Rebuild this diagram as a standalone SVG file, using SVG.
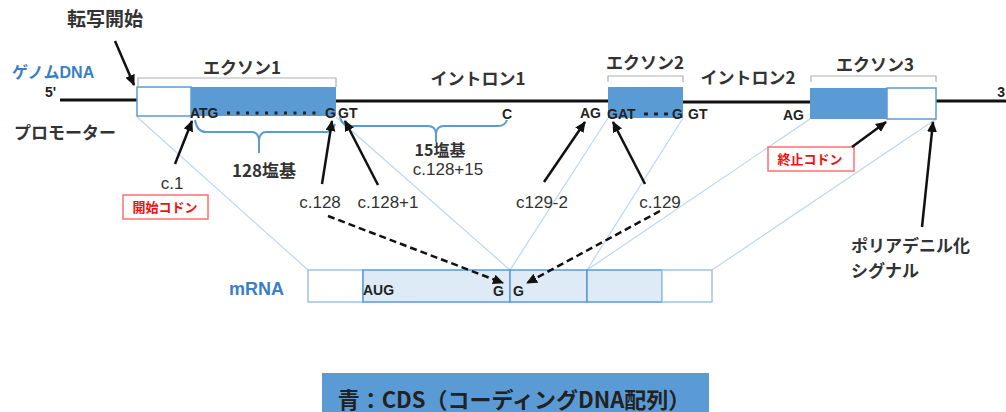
<svg xmlns="http://www.w3.org/2000/svg" width="1006" height="412" viewBox="0 0 1006 412">
<defs>
<marker id="ah" markerUnits="userSpaceOnUse" markerWidth="12" markerHeight="12" refX="10" refY="5" orient="auto">
<path d="M0,0 L11,5 L0,10 z" fill="#111"/>
</marker>
<style>
.jp{font-family:"Noto Sans CJK JP","Liberation Sans",sans-serif;fill:#333;font-weight:bold}
.lab{font-family:"Liberation Sans","Noto Sans CJK JP",sans-serif;fill:#333}
.seq{font-family:"Liberation Sans",sans-serif;font-weight:bold;fill:#222;font-size:14px}
.dna{stroke:#111;stroke-width:3;fill:none}
.cds{fill:#5b9bd5}
.utr{fill:#fff;stroke:#5b9bd5;stroke-width:1.5}
.brk{fill:none;stroke:#b0b0b0;stroke-width:1.2}
.brace{fill:none;stroke:#5b9bd5;stroke-width:2}
.guide{stroke:#bdd7ee;stroke-width:1.2;fill:none}
.arr{stroke:#111;stroke-width:2.5;fill:none;marker-end:url(#ah)}
.darr{stroke:#111;stroke-width:2.5;fill:none;stroke-dasharray:7 4;marker-end:url(#ah)}
.red{fill:#fff;stroke:#ff7070;stroke-width:1.5}
.redt{font-family:"Noto Sans CJK JP",sans-serif;font-weight:bold;fill:#f01010;font-size:13px}
.blue{font-family:"Liberation Sans","Noto Sans CJK JP",sans-serif;font-weight:bold;fill:#3a7fc4}
.mw{fill:#fff;stroke:#9dc3e6;stroke-width:1.5}
.mb{fill:#deebf7;stroke:#5b9bd5;stroke-width:1.5}
</style>
</defs>

<g id="guides">
<line class="guide" x1="137" y1="117" x2="308" y2="270"/>
<line class="guide" x1="336" y1="117" x2="510" y2="270"/>
<line class="guide" x1="608" y1="118" x2="510" y2="270"/>
<line class="guide" x1="683" y1="118" x2="587" y2="270"/>
<line class="guide" x1="810" y1="119" x2="587" y2="270"/>
<line class="guide" x1="936" y1="119" x2="712" y2="270"/>
</g>

<g id="dna-lines">
<line class="dna" x1="60" y1="100" x2="137" y2="100"/>
<line class="dna" x1="336" y1="101" x2="608" y2="101"/>
<line class="dna" x1="683" y1="102" x2="810" y2="102"/>
<line class="dna" x1="930" y1="101" x2="1006" y2="101"/>
</g>

<g id="exon1">
<rect class="utr" x="137" y="87" width="54" height="29"/>
<rect class="cds" x="191" y="87" width="145" height="29"/>
<path class="brk" d="M138,87 V78 H336 V87"/>
<text class="jp" x="242" y="74" font-size="17" text-anchor="middle">エクソン1</text>
<text class="seq" x="190" y="118">ATG</text>
<line x1="227" y1="113" x2="322" y2="113" stroke="#222" stroke-width="3" stroke-dasharray="3 6.5"/>
<text class="seq" x="325" y="118">G</text>
</g>

<g id="intron1">
<text class="jp" x="478" y="85" font-size="17" text-anchor="middle">イントロン1</text>
<text class="seq" x="338" y="118">GT</text>
<text class="seq" x="502" y="119">C</text>
<text class="seq" x="580" y="118">AG</text>
</g>

<g id="exon2">
<rect class="cds" x="608" y="87" width="75" height="31"/>
<path class="brk" d="M608,82 V76 H683 V82"/>
<text class="jp" x="645" y="69" font-size="17" text-anchor="middle">エクソン2</text>
<text class="seq" x="607" y="119">GAT</text>
<line x1="644" y1="114" x2="668" y2="114" stroke="#222" stroke-width="3" stroke-dasharray="4 6"/>
<text class="seq" x="672" y="119">G</text>
</g>

<g id="intron2">
<text class="jp" x="748" y="84" font-size="17" text-anchor="middle">イントロン2</text>
<text class="seq" x="688" y="119">GT</text>
<text class="seq" x="783" y="120">AG</text>
</g>

<g id="exon3">
<rect class="cds" x="810" y="88" width="77" height="31"/>
<rect class="utr" x="887" y="88" width="49" height="31"/>
<path class="brk" d="M811,82 V76 H936 V82"/>
<text class="jp" x="875" y="71" font-size="17" text-anchor="middle">エクソン3</text>
</g>

<g id="genome-labels">
<text class="jp" x="105" y="26" font-size="19" text-anchor="middle">転写開始</text>
<text class="blue" x="12" y="78" font-size="16">ゲノムDNA</text>
<text class="seq" x="45" y="97" font-size="15">5'</text>
<text class="seq" x="1005" y="97" font-size="15" text-anchor="end">3</text>
<text class="jp" x="14" y="139" font-size="17">プロモーター</text>
</g>

<g id="braces">
<path class="brace" d="M195,120 Q197,132 206,132 H252 Q258,132 259,140 Q260,132 266,132 H326 Q333,132 335,124"/>
<line class="brace" x1="259" y1="138" x2="259" y2="153"/>
<path class="brace" d="M340,117 Q342,126 351,126 H428 Q435,126 436,133 Q437,126 444,126 H498 Q505,126 507,120"/>
<line class="brace" x1="436" y1="131" x2="436" y2="142"/>
<text class="jp" x="264" y="177" font-size="17" text-anchor="middle">128塩基</text>
<text class="jp" x="440" y="156" font-size="16" text-anchor="middle">15塩基</text>
<text class="lab" x="448" y="175" font-size="17" text-anchor="middle">c.128+15</text>
</g>

<g id="positions">
<text class="lab" x="172" y="189" font-size="17" text-anchor="middle">c.1</text>
<rect class="red" x="123" y="195" width="85" height="24"/>
<text class="redt" x="165" y="212" text-anchor="middle">開始コドン</text>
<text class="lab" x="320" y="208" font-size="17" text-anchor="middle">c.128</text>
<text class="lab" x="388" y="208" font-size="17" text-anchor="middle">c.128+1</text>
<text class="lab" x="542" y="208" font-size="17" text-anchor="middle">c129-2</text>
<text class="lab" x="660" y="208" font-size="17" text-anchor="middle">c.129</text>
<rect class="red" x="768" y="147" width="86" height="24"/>
<text class="redt" x="810" y="164" text-anchor="middle">終止コドン</text>
<text class="jp" x="851" y="252" font-size="17">ポリアデニル化</text>
<text class="jp" x="851" y="277" font-size="17">シグナル</text>
</g>

<g id="mrna">
<text class="blue" x="229" y="295" font-size="18">mRNA</text>
<rect class="mw" x="308" y="270" width="55" height="32"/>
<rect class="mb" x="363" y="270" width="147" height="32"/>
<rect class="mb" x="510" y="270" width="77" height="32"/>
<rect class="mb" x="587" y="270" width="75" height="32"/>
<rect class="mw" x="662" y="270" width="50" height="32"/>
<text class="seq" x="363" y="295">AUG</text>
<text class="seq" x="493" y="296">G</text>
<text class="seq" x="513" y="296">G</text>
</g>

<g id="connectors">
<line class="arr" x1="115" y1="41" x2="134" y2="85"/>
<line class="arr" x1="175" y1="164" x2="192" y2="121"/>
<line class="arr" x1="322" y1="184" x2="332" y2="121"/>
<line class="arr" x1="378" y1="185" x2="345" y2="121"/>
<line class="arr" x1="544" y1="182" x2="585" y2="122"/>
<line class="arr" x1="645" y1="184" x2="613" y2="122"/>
<line class="arr" x1="852" y1="147" x2="886" y2="122"/>
<line class="arr" x1="922" y1="227" x2="933" y2="122"/>
<line class="darr" x1="328" y1="216" x2="503" y2="283"/>
<line class="darr" x1="660" y1="211" x2="527" y2="283"/>
</g>

<g id="legend">
<rect x="322" y="373" width="387" height="39" fill="#5b9bd5"/>
<text x="514" y="408" font-family="Noto Sans CJK JP, Liberation Sans, sans-serif" font-size="22" font-weight="bold" fill="#222" text-anchor="middle">青：CDS（コーディングDNA配列）</text>
</g>
</svg>
